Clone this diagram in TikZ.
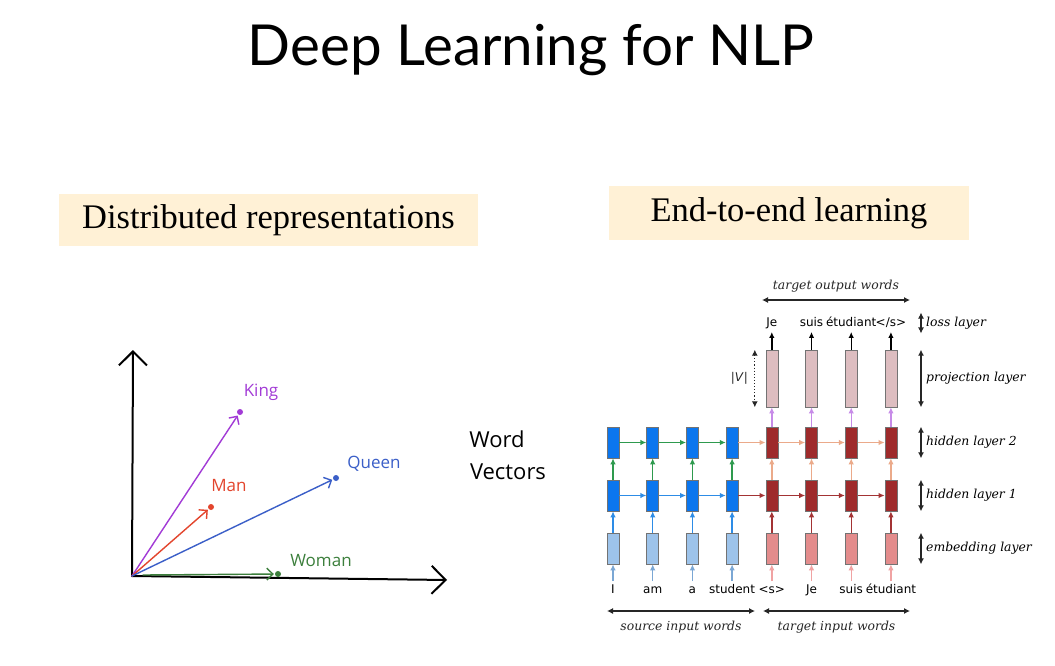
\documentclass[tikz,border=0pt]{standalone}
\usepackage{fontspec}
\setmainfont{Liberation Serif}
\newfontfamily\titlefont{Lato}
\newfontfamily\netfont{DejaVu Sans}
\newfontfamily\netlabelfont{DejaVu Serif}
\newfontfamily\handfont{Open Sans}
\usepackage{tikz}
\usetikzlibrary{%
  positioning
 ,arrows.meta
 ,calc
}
\definecolor{cream}{HTML}{FFF1D6}
\definecolor{kingc}{HTML}{A23BD6}
\definecolor{manc}{HTML}{E3452D}
\definecolor{queenc}{HTML}{3B5FC8}
\definecolor{womanc}{HTML}{3C7F3C}
\definecolor{srchidfill}{HTML}{0B76EE}
\definecolor{tgthidfill}{HTML}{9E2A2B}
\definecolor{srcembfill}{HTML}{9DC3EA}
\definecolor{tgtembfill}{HTML}{E38C8C}
\definecolor{projfill}{HTML}{DDBDC0}
\definecolor{srcin}{HTML}{7BA7D4}
\definecolor{tgtin}{HTML}{F0A3A3}
\definecolor{srcblu}{HTML}{2D8CE6}
\definecolor{srcgrn}{HTML}{2E9A4E}
\definecolor{tgtred}{HTML}{A33334}
\definecolor{tgtpch}{HTML}{EBAA8A}
\definecolor{projc}{HTML}{C78BE8}
\tikzstyle{head}=[fill=cream,font=\fontsize{34.5}{40}\selectfont]
\tikzstyle{axis}=[line width=2pt,line cap=round,-{Straight Barb[length=14pt,width=28pt]}]
\tikzstyle{vec}=[line width=1.4pt,line cap=round,shorten >=1pt,-{Straight Barb[length=6pt,width=12pt]}]
\tikzstyle{dot}=[circle,inner sep=0pt,minimum size=6pt]
\tikzstyle{hand}=[font=\handfont\fontsize{17}{20}\selectfont]
\tikzstyle{bighand}=[font=\handfont\fontsize{22}{26}\selectfont]
\tikzstyle{cell}=[rectangle,draw=black!55,line width=0.6pt,minimum width=12pt,inner sep=0pt]
\tikzstyle{hid}=[cell,minimum height=31pt]
\tikzstyle{srchid}=[hid,fill=srchidfill]
\tikzstyle{tgthid}=[hid,fill=tgthidfill]
\tikzstyle{srcemb}=[hid,fill=srcembfill]
\tikzstyle{tgtemb}=[hid,fill=tgtembfill]
\tikzstyle{proj}=[cell,minimum height=57pt,fill=projfill]
\tikzstyle{word}=[font=\netfont\fontsize{12}{14}\selectfont,text height=9pt,text depth=2.5pt,inner sep=3pt]
\tikzstyle{lbl}=[font=\netlabelfont\itshape\fontsize{12.4}{14}\selectfont]
\tikzstyle{side}=[lbl,anchor=west,inner xsep=5pt]
\tikzstyle{ar}=[line width=1.4pt,-{Latex[length=6pt,width=5.5pt]}]
\tikzstyle{dbl}=[line width=1.1pt,black!85,{Latex[length=6pt,width=6pt]}-{Latex[length=6pt,width=6pt]}]

\begin{document}
\begin{tikzpicture}[x=1pt,y=-1pt,on grid,node distance=53pt]
  \path[use as bounding box,fill=white] (0,0) rectangle (1055,666);
  \node[font=\titlefont\fontsize{56.5}{64}\selectfont] (title) at (531,50) {Deep Learning for NLP};
  \node[head,minimum width=419pt,minimum height=52pt] (dist) at (268.5,220) {Distributed representations};
  \node[head,minimum width=360pt,minimum height=54pt] (e2e) at (789,213) {End-to-end learning};

  % word vectors
  \coordinate (o) at (132,576);
  \coordinate (ytop) at (133,350);
  \coordinate (xend) at (447,580);
  \coordinate (ws) at (143,575);
  \draw[axis] (o) -- (ytop);
  \draw[axis] (o) -- (xend);
  \node[dot,fill=kingc] (kingpt) at (240,412) {};
  \node[dot,fill=manc] (manpt) at (211,507) {};
  \node[dot,fill=queenc] (queenpt) at (336,478) {};
  \node[dot,fill=womanc] (womanpt) at (278,574) {};
  \node[hand,text=kingc] (kinglbl) at (261,392) {King};
  \node[hand,text=manc] (manlbl) at (229,486) {Man};
  \node[hand,text=queenc] (queenlbl) at (374,464) {Queen};
  \node[hand,text=womanc] (womanlbl) at (321,561) {Woman};
  \draw[vec,kingc] (o) -- (kingpt);
  \draw[vec,manc] (o) -- (manpt);
  \draw[vec,queenc] (o) -- (queenpt);
  \draw[vec,womanc] (ws) -- (womanpt);
  \node[bighand] (wv1) at (497,439) {Word};
  \node[bighand] (wv2) at (508,472) {Vectors};

  % encoder / decoder cells
  \foreach \i in {1,...,4} {
    \node[srcemb] (e_\i) at ({613+39.7*(\i-1)},548.5) {};
    \node[srchid] (h1_\i) [above=of e_\i] {};
    \node[srchid] (h2_\i) [above=of h1_\i] {};
  }
  \foreach \i in {5,...,8} {
    \node[tgtemb] (e_\i) at ({613+39.7*(\i-1)},548.5) {};
    \node[tgthid] (h1_\i) [above=of e_\i] {};
    \node[tgthid] (h2_\i) [above=of h1_\i] {};
    \node[proj] (p_\i) [above=64pt of h2_\i] {};
  }
  \foreach \i/\w in {1/I,2/am,3/a,4/student,5/<s>,6/Je,7/suis,8/étudiant}
    \node[word] (w_\i) [below=41.5pt of e_\i] {\w};
  \foreach \i/\w in {5/Je,6/suis,7/étudiant,8/{</s>}}
    \node[word] (o_\i) [above=55.5pt of p_\i] {\w};

  \foreach \i in {1,...,4}
    \path[ar] (w_\i) edge[srcin] (e_\i)
              (e_\i) edge[srcblu] (h1_\i)
              (h1_\i) edge[srcgrn] (h2_\i);
  \foreach \i/\j in {1/2,2/3,3/4}
    \path[ar] (h1_\i) edge[srcblu] (h1_\j)
              (h2_\i) edge[srcgrn] (h2_\j);
  \foreach \i/\j in {4/5,5/6,6/7,7/8}
    \path[ar] (h1_\i) edge[tgtred] (h1_\j)
              (h2_\i) edge[tgtpch] (h2_\j);
  \foreach \i in {5,...,8}
    \path[ar] (w_\i) edge[tgtin] (e_\i)
              (e_\i) edge[tgtred] (h1_\i)
              (h1_\i) edge[tgtpch] (h2_\i)
              (h2_\i) edge[projc] (p_\i)
              (p_\i) edge[black] (o_\i);

  % layer labels
  \node[side] (lloss) at (921,323) {loss layer};
  \node[side] (lproj) at (921,378.5) {projection layer};
  \node[side] (lh2) at (921,442.5) {hidden layer 2};
  \node[side] (lh1) at (921,495.5) {hidden layer 1};
  \node[side] (lemb) at (921,548.5) {embedding layer};
  \draw[dbl] ([yshift=1.5pt]lloss.west |- o_8.north) -- ([yshift=-1.5pt]lloss.west |- o_8.south);
  \draw[dbl] (lproj.west |- p_8.north) -- (lproj.west |- p_8.south);
  \draw[dbl] (lh2.west |- h2_8.north) -- (lh2.west |- h2_8.south);
  \draw[dbl] (lh1.west |- h1_8.north) -- (lh1.west |- h1_8.south);
  \draw[dbl] (lemb.west |- e_8.north) -- (lemb.west |- e_8.south);
  \draw[dbl,dotted] ([xshift=-17pt]p_5.north) -- node[left=3pt,font=\netfont\fontsize{12}{14}\selectfont] (vlbl) {|\textit{V}|} ([xshift=-17pt]p_5.south);

  \coordinate (outL) at (762,300);
  \coordinate (outR) at (910,300);
  \coordinate (srcL) at (607,611);
  \coordinate (srcR) at (755,611);
  \coordinate (tgtL) at (763,611);
  \coordinate (tgtR) at (910,611);
  \draw[dbl] (outL) -- node[lbl,above=4pt] (outlbl) {target output words} (outR);
  \draw[dbl] (srcL) -- node[lbl,below=6pt] (srclbl) {source input words} (srcR);
  \draw[dbl] (tgtL) -- node[lbl,below=6pt] (tgtlbl) {target input words} (tgtR);
\end{tikzpicture}
\end{document}
